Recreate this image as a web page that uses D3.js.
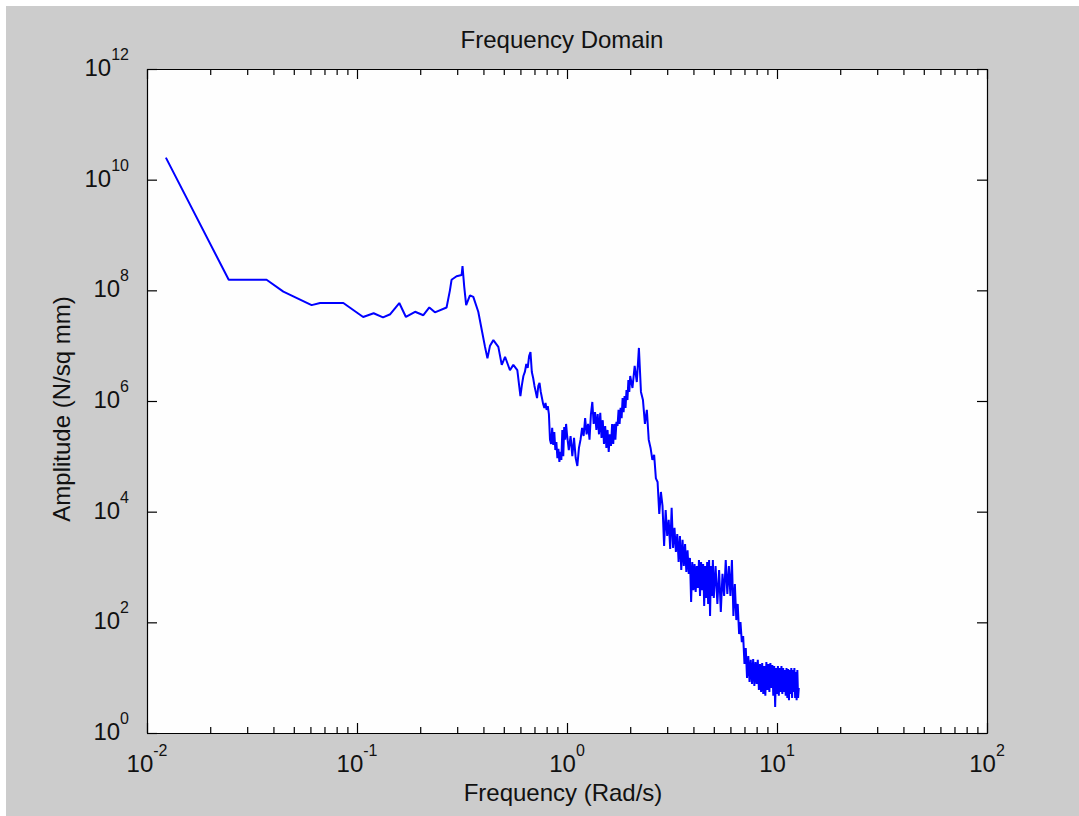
<!DOCTYPE html>
<html>
<head>
<meta charset="utf-8">
<script src="https://cdn.jsdelivr.net/npm/d3@7"></script>
<style>
  body { margin: 0; background: #fff; }
  text { font-family: "Liberation Sans", Arial, sans-serif; fill: #111; }
</style>
</head>
<body>
<div id="chart"></div>
<script>
// spectrum: frequency in rad/s, amplitude in N/sq mm
const freqLow = [0.0123, 0.0245, 0.0371, 0.0446, 0.0608, 0.0667, 0.0861, 0.107, 0.120, 0.133, 0.144, 0.159, 0.171, 0.189, 0.207, 0.221, 0.235, 0.267, 0.277, 0.282, 0.298, 0.315, 0.318, 0.324, 0.331, 0.345, 0.358, 0.378, 0.393];
const ampLow = [2.5e10, 1.55e8, 1.55e8, 9.5e7, 5.4e7, 5.9e7, 5.9e7, 3.3e7, 3.85e7, 3.25e7, 3.7e7, 5.9e7, 3.3e7, 4.1e7, 3.55e7, 4.9e7, 4.0e7, 4.9e7, 1.0e8, 1.55e8, 1.8e8, 1.9e8, 2.75e8, 1.17e8, 5.4e7, 8.1e7, 7.6e7, 4.1e7, 1.9e7];

const freqMid = [0.407, 0.418, 0.430, 0.446, 0.471, 0.489, 0.507, 0.535, 0.555, 0.580,
    0.60, 0.61, 0.62, 0.63, 0.64, 0.65, 0.66, 0.67, 0.68, 0.69, 0.70, 0.71, 0.72, 0.73, 0.74, 0.75, 0.76, 0.77, 0.78, 0.79,
    0.80, 0.81, 0.82, 0.83, 0.84, 0.85, 0.86, 0.87, 0.88, 0.89, 0.90, 0.91, 0.92, 0.93, 0.94, 0.95, 0.96, 0.97, 0.98, 0.99, 1.00];
const ampMid = [9.5e6, 5.9e6, 1.0e7, 1.26e7, 9.5e6, 4.5e6, 6.3e6, 3.6e6, 4.5e6, 3.6e6,
    1.23e6, 1.95e6, 2.83e6, 3.35e6, 4.67e6, 3.95e6, 6.5e6, 7.7e6, 3.35e6, 2.6e6, 1.87e6, 1.46e6, 1.13e6, 1.87e6, 2.12e6, 1.46e6, 1.13e6, 8.8e5, 7.5e5, 9.2e5,
    6.9e5, 8.1e5, 5.8e5, 2.0e5, 1.67e5, 3.26e5, 1.6e5, 2.75e5, 1.3e5, 1.82e5, 9.3e4, 1.36e5, 7.9e4, 1.2e5, 8.6e4, 3.0e5, 1.01e5, 3.4e5, 2.0e5, 3.85e5, 2.5e5];

const freqHump = [1.02, 1.04, 1.06, 1.08, 1.10, 1.12, 1.14, 1.16, 1.18, 1.20, 1.22, 1.24, 1.26, 1.28, 1.30, 1.32, 1.34, 1.36, 1.38, 1.40,
    1.42, 1.44, 1.46, 1.48, 1.50, 1.52, 1.54, 1.56, 1.58, 1.60, 1.62, 1.64, 1.66, 1.68, 1.70, 1.72, 1.74, 1.76, 1.78, 1.80,
    1.82, 1.84, 1.86, 1.88, 1.90, 1.92, 1.94, 1.96, 1.98, 2.00,
    2.05, 2.10, 2.15, 2.20, 2.25, 2.30, 2.35, 2.40, 2.45, 2.50, 2.55, 2.60, 2.65, 2.70, 2.75, 2.80, 2.85, 2.90, 2.95, 3.00,
    3.05, 3.10, 3.15, 3.20, 3.25, 3.30, 3.35, 3.40, 3.45, 3.50, 3.55, 3.60, 3.65, 3.70, 3.75, 3.80, 3.85, 3.90, 3.95, 4.00,
    4.05, 4.10, 4.15, 4.20, 4.25, 4.30, 4.35, 4.40, 4.45, 4.50, 4.55, 4.60, 4.65, 4.70, 4.75, 4.80, 4.85, 4.90, 4.95, 5.00];
const ampHump = [1.3e5, 2.33e5, 1.01e5, 2.15e5, 9.3e4, 6.7e4, 1.42e5, 2.0e5, 3.26e5, 2.33e5, 4.9e5, 2.5e5, 3.85e5, 2.0e5, 5.8e5, 9.6e5, 3.85e5, 6.3e5, 3.0e5, 5.8e5,
    2.5e5, 6.1e5, 2.15e5, 4.5e5, 1.67e5, 3.54e5, 1.42e5, 3.0e5, 1.2e5, 2.5e5, 1.54e5, 3.85e5, 1.67e5, 3.85e5, 2.0e5, 4.2e5, 3.54e5, 6.9e5, 3.85e5, 7.5e5,
    4.9e5, 1.13e6, 6.3e5, 1.23e6, 7.5e5, 1.58e6, 1.04e6, 2.4e6, 1.46e6, 2.83e6,
    1.72e6, 4.3e6, 2.2e6, 9.1e6, 1.46e6, 1.04e6, 3.85e5, 6.9e5, 2.0e5, 1.42e5, 8.6e4, 1.06e5, 4.0e4, 3.44e4, 9.1e3, 2.27e4, 1.27e4, 2.4e3, 1.07e4, 3.64e3,
    7.1e3, 2.12e3, 1.17e4, 2.2e3, 5.1e3, 1.87e3, 3.95e3, 1.23e3, 3.64e3, 880, 3.1e3, 1.04e3, 2.6e3, 810, 2.0e3, 750, 1.46e3, 233, 1.23e3, 380,
    1.13e3, 353, 1.04e3, 418, 1.34e3, 299, 1.23e3, 380, 1.13e3, 198, 1.04e3, 275, 1.23e3, 215, 1.34e3, 130, 1.04e3, 299, 1.34e3, 275];

const freqTail = [5.1, 5.2, 5.3, 5.4, 5.5, 5.6, 5.7, 5.8, 5.9, 6.0, 6.1, 6.2, 6.3, 6.4, 6.5, 6.6, 6.7, 6.8, 6.9, 7.0,
    7.1, 7.2, 7.3, 7.4, 7.5, 7.6, 7.7, 7.8, 7.9, 8.0, 8.1, 8.2, 8.3, 8.4, 8.5, 8.6, 8.7, 8.8, 8.9, 9.0,
    9.1, 9.2, 9.3, 9.4, 9.5, 9.6, 9.7, 9.8, 9.9, 10.0, 10.1, 10.2, 10.3, 10.4, 10.5, 10.6, 10.7, 10.8, 10.9, 11.0,
    11.1, 11.2, 11.3, 11.4, 11.5, 11.6, 11.7, 11.8, 11.9, 12.0, 12.1, 12.2, 12.3, 12.4, 12.5, 12.6, 12.7];
const ampTail = [1.04e3, 215, 880, 154, 750, 299, 1.34e3, 325, 1.04e3, 299, 1.34e3, 130, 493, 110, 215, 61.5, 101, 44, 56.6, 17.7,
    34.4, 9.9, 24.7, 8.4, 21, 7.7, 21.7, 7.1, 19.2, 7.7, 21, 6.0, 17.7, 5.5, 18.4, 5.1, 16.3, 4.7, 19.2, 6.0,
    17.7, 5.5, 18.4, 6.5, 16.9, 4.7, 16.3, 2.95, 15.0, 5.1, 16.3, 4.7, 15.0, 5.5, 16.3, 5.1, 15.0, 5.5, 13.8, 4.7,
    15.0, 4.3, 14.4, 3.9, 13.8, 5.1, 15.0, 4.3, 13.8, 5.5, 15.0, 4.3, 12.6, 3.9, 13.8, 4.3, 6.5];

const xMajor = [1e-2, 1e-1, 1e0, 1e1, 1e2];
const xExp = ["-2", "-1", "0", "1", "2"];
const yMajor = [1e0, 1e2, 1e4, 1e6, 1e8, 1e10, 1e12];
const yExp = ["0", "2", "4", "6", "8", "10", "12"];

const width = 1079;
const height = 816;
const plotLeft = 147, plotRight = 987, plotTop = 69, plotBottom = 733;

const svg = d3.select("#chart").append("svg").attr("width", width).attr("height", height);

// figure background (MATLAB grey)
svg.append("rect").attr("x", 6).attr("y", 6).attr("width", width - 6).attr("height", height - 6).attr("fill", "#cccccc");
svg.append("rect").attr("x", plotLeft).attr("y", plotTop).attr("width", plotRight - plotLeft).attr("height", plotBottom - plotTop).attr("fill", "#fefefe");

const x = d3.scaleLog().domain([1e-2, 1e2]).range([plotLeft, plotRight]);
const y = d3.scaleLog().domain([1e0, 1e12]).range([plotBottom, plotTop]);

const points = [
    ...d3.zip(freqLow, ampLow),
    ...d3.zip(freqMid, ampMid),
    ...d3.zip(freqHump, ampHump),
    ...d3.zip(freqTail, ampTail)
];

const line = d3.line().x(d => x(d[0])).y(d => y(d[1]));

svg.append("path")
    .datum(points)
    .attr("d", line)
    .attr("fill", "none")
    .attr("stroke", "#0000ff")
    .attr("stroke-width", 2)
    .attr("stroke-linejoin", "bevel");

// axes, ticks pointing inward on all four sides
const xMinor = x.ticks().filter(v => !xMajor.includes(v));

function styleAxis(g) {
    g.selectAll("path.domain").attr("stroke", "#000").attr("stroke-width", 1.2);
    g.selectAll(".tick line").attr("stroke", "#000").attr("stroke-width", 1.2);
    g.selectAll(".tick text").remove();
}

svg.append("g").attr("transform", `translate(0,${plotBottom})`)
    .call(d3.axisBottom(x).tickValues(xMajor).tickSizeInner(-10).tickSizeOuter(0)).call(styleAxis);
svg.append("g").attr("transform", `translate(0,${plotBottom})`)
    .call(d3.axisBottom(x).tickValues(xMinor).tickSizeInner(-6).tickSizeOuter(0)).call(styleAxis);
svg.append("g").attr("transform", `translate(0,${plotTop})`)
    .call(d3.axisTop(x).tickValues(xMajor).tickSizeInner(-10).tickSizeOuter(0)).call(styleAxis);
svg.append("g").attr("transform", `translate(0,${plotTop})`)
    .call(d3.axisTop(x).tickValues(xMinor).tickSizeInner(-6).tickSizeOuter(0)).call(styleAxis);
svg.append("g").attr("transform", `translate(${plotLeft},0)`)
    .call(d3.axisLeft(y).tickValues(yMajor).tickSizeInner(-10).tickSizeOuter(0)).call(styleAxis);
svg.append("g").attr("transform", `translate(${plotRight},0)`)
    .call(d3.axisRight(y).tickValues(yMajor).tickSizeInner(-10).tickSizeOuter(0)).call(styleAxis);

// tick labels as 10 with superscript exponent
const xLabels = svg.append("g").selectAll("text")
    .data(d3.zip(xMajor, xExp))
    .enter().append("text")
    .attr("x", d => x(d[0]))
    .attr("y", plotBottom + 39)
    .attr("text-anchor", "middle")
    .style("font-size", "24px");
xLabels.append("tspan").text("10");
xLabels.append("tspan").attr("dy", -16).style("font-size", "16px").text(d => d[1]);

const yLabels = svg.append("g").selectAll("text")
    .data(d3.zip(yMajor, yExp))
    .enter().append("text")
    .attr("x", plotLeft - 18)
    .attr("y", d => y(d[0]) + 7)
    .attr("text-anchor", "end")
    .style("font-size", "24px");
yLabels.append("tspan").text("10");
yLabels.append("tspan").attr("dy", -16).style("font-size", "16px").text(d => d[1]);

svg.append("text").attr("x", 562).attr("y", 48).attr("text-anchor", "middle")
    .style("font-size", "24px").text("Frequency Domain");
svg.append("text").attr("x", 563).attr("y", 801).attr("text-anchor", "middle")
    .style("font-size", "24px").text("Frequency (Rad/s)");
svg.append("text").attr("transform", "translate(70,409) rotate(-90)").attr("text-anchor", "middle")
    .style("font-size", "24px").text("Amplitude (N/sq mm)");
</script>
</body>
</html>
